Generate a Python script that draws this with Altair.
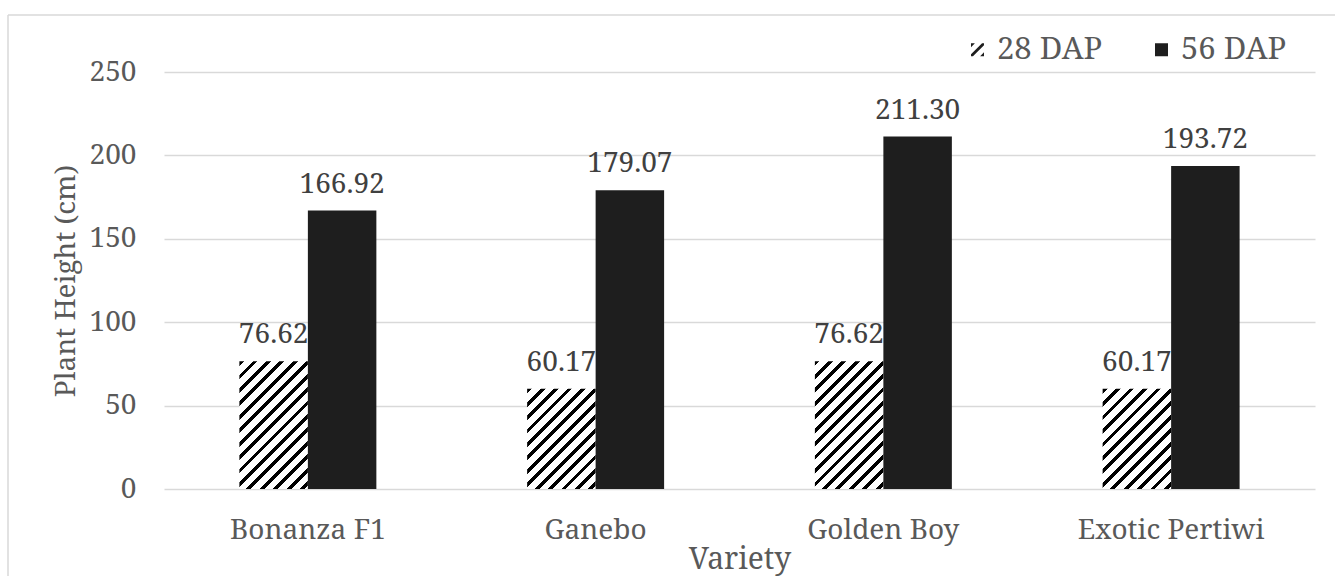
import math
import altair as alt
import pandas as pd

varieties = ["Bonanza F1", "Ganebo", "Golden Boy", "Exotic Pertiwi"]
series = ["28 DAP", "56 DAP"]
dap28 = [76.62, 60.17, 76.62, 60.17]
dap56 = [166.92, 179.07, 211.30, 193.72]

rows = []
for i, v in enumerate(varieties):
    rows.append({"variety": v, "series": series[0], "value": dap28[i]})
    rows.append({"variety": v, "series": series[1], "value": dap56[i]})
df = pd.DataFrame(rows)

# layout (plot area)
W, H = 1151, 417
PAD_L, PAD_T = 164, 72
TOTAL_W, TOTAL_H = 1335, 576
P_INNER = 0.524
YMAX = 250
bar_w = W / len(varieties) * (1 - P_INNER) / 2

FONT = "Noto Serif"
FS = 28
GRAY = "#595959"
DOT_FILL = "#1e1e1e"


def hatch(w, h, period=9.5, frac=0.36):
    k = (w + h) / (w * w + h * h)
    span = (w + h) / math.sqrt(2)
    p = period / span
    stops = []
    t = 0.0
    while t < 1:
        b = min(t + p * frac, 1)
        e = min(t + p, 1)
        stops += [(t, "black"), (b, "black"), (b, "white"), (e, "white")]
        t += p
    return alt.LinearGradient(
        gradient="linear",
        stops=[alt.GradientStop(color=c, offset=round(o, 5)) for o, c in stops],
        x1=0, y1=0, x2=round(w * k, 5), y2=round(h * k, 5),
    )


grad_hi = hatch(bar_w, max(dap28) * H / YMAX)
grad_lo = hatch(bar_w, min(dap28) * H / YMAX)

HATCH_PATH = ("M -1 0.7 L 0.7 -1 L 1 -1 L 1 -0.7 L -0.7 1 L -1 1 Z "
              "M 0.4 1 L 1 0.4 L 1 1 Z M -1 -0.4 L -0.4 -1 L -1 -1 Z")
SQUARE_PATH = "M -1 -1 L 1 -1 L 1 1 L -1 1 Z"

base = alt.Chart(df).encode(
    x=alt.X(
        "variety:N",
        sort=varieties,
        scale=alt.Scale(paddingInner=P_INNER, paddingOuter=P_INNER / 2),
        axis=alt.Axis(
            title="Variety",
            labelAngle=0,
            labelFont=FONT,
            labelFontSize=FS,
            labelColor=GRAY,
            labelPadding=27,
            labelLimit=400,
            ticks=False,
            tickSize=0,
            domain=False,
            titleFont=FONT,
            titleFontSize=30,
            titleFontWeight="normal",
            titleColor=GRAY,
            titlePadding=0,
        ),
    ),
    xOffset=alt.XOffset(
        "series:N", sort=series,
        scale=alt.Scale(domain=series, paddingInner=0, paddingOuter=0),
    ),
    y=alt.Y(
        "value:Q",
        scale=alt.Scale(domain=[0, YMAX], nice=False),
        axis=alt.Axis(
            title="Plant Height (cm)",
            values=[0, 50, 100, 150, 200, 250],
            labelFont=FONT,
            labelFontSize=FS,
            labelColor=GRAY,
            labelPadding=28,
            ticks=False,
            tickSize=0,
            domain=False,
            grid=True,
            gridColor="#d9d9d9",
            gridWidth=1.5,
            titleFont=FONT,
            titleFontSize=FS,
            titleFontWeight="normal",
            titleColor=GRAY,
            titlePadding=9,
        ),
    ),
)

bars28 = base.transform_filter(alt.datum.series == series[0]).mark_bar(strokeWidth=0).encode(
    fill=alt.condition("datum.value > 70", alt.value(grad_hi), alt.value(grad_lo))
)
bars56 = base.transform_filter(alt.datum.series == series[1]).mark_bar(
    fill=DOT_FILL, strokeWidth=0
)

labels = base.mark_text(
    font=FONT, fontSize=FS, color="#404040", baseline="alphabetic", dy=-18
).encode(text=alt.Text("value:Q", format=".2f"))

legend_layer = base.mark_point(filled=True, opacity=0, color=DOT_FILL).encode(
    shape=alt.Shape(
        "series:N",
        sort=series,
        scale=alt.Scale(domain=series, range=[HATCH_PATH, SQUARE_PATH]),
        legend=alt.Legend(
            title=None,
            orient="none",
            direction="horizontal",
            legendX=798,
            legendY=-38,
            padding=0,
            symbolSize=169,
            symbolStrokeWidth=0,
            symbolFillColor=DOT_FILL,
            symbolOpacity=1,
            labelFont=FONT,
            labelFontSize=31,
            labelColor=GRAY,
            labelOffset=4,
            columnPadding=43,
        ),
    )
)

frame_df = pd.DataFrame({"k": [0]})
frame_top = alt.Chart(frame_df).mark_rule(color="#d9d9d9", strokeWidth=1.5).encode(
    x=alt.value(8 - PAD_L), x2=alt.value(TOTAL_W - PAD_L), y=alt.value(15 - PAD_T)
)
frame_left = alt.Chart(frame_df).mark_rule(color="#d9d9d9", strokeWidth=1.5).encode(
    x=alt.value(8 - PAD_L), y=alt.value(15 - PAD_T), y2=alt.value(TOTAL_H - PAD_T)
)

chart = alt.layer(frame_top, frame_left, bars28, bars56, labels, legend_layer).properties(
    width=W,
    height=H,
    autosize=alt.AutoSizeParams(type="none"),
    padding={"left": PAD_L, "top": PAD_T, "right": TOTAL_W - PAD_L - W, "bottom": TOTAL_H - PAD_T - H},
    background="white",
).configure_view(stroke=None)

chart.save("out.html", embed_options={"renderer": "svg", "actions": False})
